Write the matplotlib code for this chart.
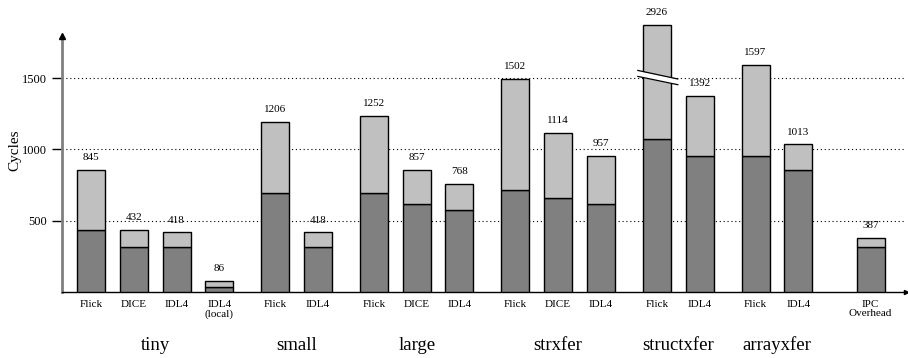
"""Stacked cycle counts per stub compiler, with a broken bar for structxfer/Flick."""
import numpy as np
import matplotlib.pyplot as plt

groups = ["tiny", "small", "large", "strxfer", "structxfer", "arrayxfer", ""]
bar_names = [
    ["Flick", "DICE", "IDL4", "IDL4\n(local)"],
    ["Flick", "IDL4"],
    ["Flick", "DICE", "IDL4"],
    ["Flick", "DICE", "IDL4"],
    ["Flick", "IDL4"],
    ["Flick", "IDL4"],
    ["IPC\nOverhead"],
]
# dark lower part of each bar
lower = [
    [437, 316, 316, 37],
    [696, 318],
    [696, 617, 577],
    [715, 656, 617],
    [1075, 956],
    [956, 855],
    [318],
]
# drawn bar tops (structxfer Flick is cut off)
tops = [
    [855, 437, 418, 79],
    [1194, 418],
    [1234, 858, 757],
    [1494, 1117, 956],
    [1872, 1374],
    [1592, 1035],
    [379],
]
# printed totals
totals = [
    [845, 432, 418, 86],
    [1206, 418],
    [1252, 857, 768],
    [1502, 1114, 957],
    [2926, 1392],
    [1597, 1013],
    [387],
]
group_gaps = [0, 0.31, 0.31, 0.31, 0.31, 0.31, 0.69]
yticks = [500, 1000, 1500]
y_axis_top = 1796

DARK = "#808080"
LIGHT = "#c0c0c0"
plt.rcParams["font.family"] = ["Liberation Serif", "DejaVu Serif"]

fig = plt.figure(figsize=(9.08, 3.58), dpi=100)
ax = fig.add_axes([62 / 908, 66 / 358, 844 / 908, 292 / 358])

xs, centers = [], []
pos = 0.0
for gi, names in enumerate(bar_names):
    pos += group_gaps[gi]
    gx = []
    for _ in names:
        gx.append(pos)
        pos += 1
    xs.append(gx)
    centers.append(np.mean(gx))

w = 0.655
for gi in range(len(groups)):
    for x, lo, top, tot in zip(xs[gi], lower[gi], tops[gi], totals[gi]):
        ax.bar(x, lo, width=w, color=DARK, edgecolor="black", linewidth=1.0, zorder=3)
        ax.bar(x, top - lo, bottom=lo, width=w, color=LIGHT, edgecolor="black",
               linewidth=1.0, zorder=3)
        ax.text(x, top + 55, str(tot), ha="center", va="bottom", fontsize=8, zorder=4)

# break mark on the clipped bar
bx = xs[4][0]
xl = np.array([bx - 0.445, bx + 0.49])
y1 = np.array([1554, 1494])
y2 = np.array([1512, 1454])
ax.fill_between(xl, y2, y1, color="white", zorder=5, linewidth=0)
ax.plot(xl, y1, color="black", lw=0.9, zorder=6)
ax.plot(xl, y2, color="black", lw=0.9, zorder=6)

for yv in yticks:
    ax.axhline(yv, color="black", linestyle=(0, (1, 2.5)), linewidth=0.8, zorder=1)

ax.set_xlim(-0.68, 19.07)
ax.set_ylim(0, 2048)
for s in ["top", "right"]:
    ax.spines[s].set_visible(False)
ax.spines["left"].set_color("#808080")
ax.spines["left"].set_linewidth(2)
ax.spines["left"].set_bounds(0, y_axis_top)
ax.spines["bottom"].set_linewidth(1)
ax.plot(-0.68, y_axis_top, "^k", clip_on=False, markersize=5, zorder=7)
ax.plot(1, 0, ">k", transform=ax.transAxes, clip_on=False, markersize=3, zorder=7)

ax.set_yticks(yticks)
ax.set_yticklabels([str(v) for v in yticks], fontsize=9)
ax.tick_params(axis="y", direction="out", length=7, width=1, pad=4)
ax.set_xticks([x for gx in xs for x in gx])
ax.set_xticklabels([n for names in bar_names for n in names], fontsize=8, linespacing=1.0)
ax.tick_params(axis="x", length=0, pad=6)
ax.set_ylabel("Cycles", fontsize=11)
ax.yaxis.set_label_coords(-41 / 844, (292 - 150) / 292)

for c, g in zip(centers, groups):
    if g:
        ax.text(c, -372, g, ha="center", va="center", fontsize=13.5, clip_on=False)

fig.savefig("out.png", dpi=100)
